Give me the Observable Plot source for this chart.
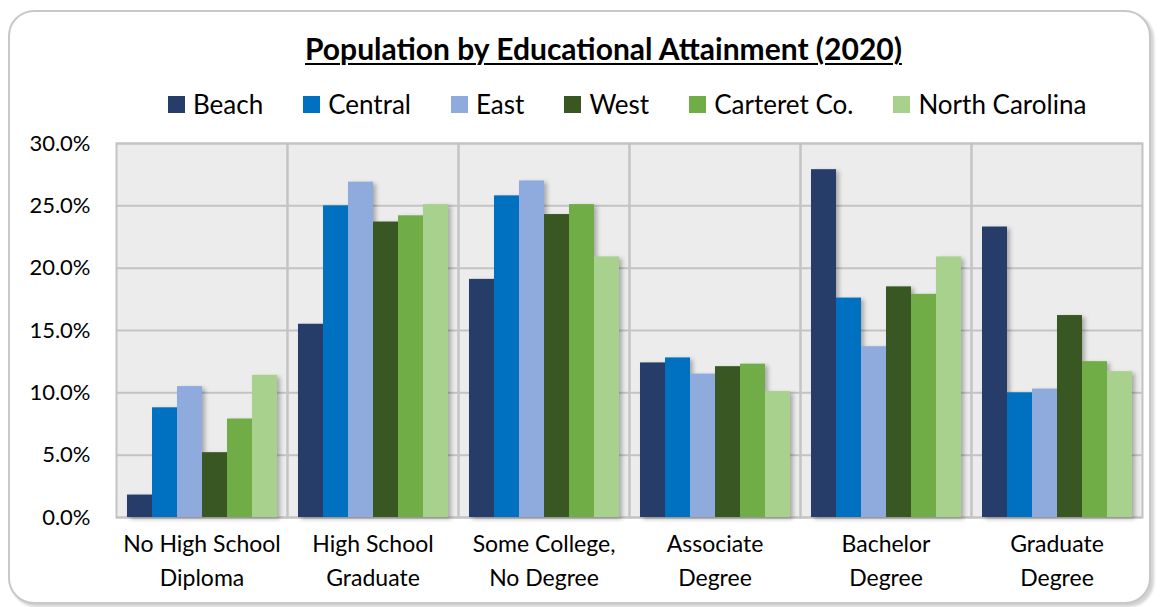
<!DOCTYPE html>
<html>
<head>
<meta charset="utf-8">
<script src="https://cdn.jsdelivr.net/npm/d3@7"></script>
<script src="https://cdn.jsdelivr.net/npm/@observablehq/plot@0.6"></script>
<style>
  html, body { margin: 0; padding: 0; background: #fff; }
  body { width: 1160px; height: 607px; overflow: hidden; font-family: Lato, "Open Sans", sans-serif; position: relative; }
  #card {
    position: absolute; left: 8px; top: 10px; width: 1143px; height: 594px;
    border: 2px solid #c8c8c8; border-radius: 26px; box-sizing: border-box;
    box-shadow: 3px 3px 3px rgba(0,0,0,0.18); background: #fff;
  }
  #title {
    position: absolute; top: 30px; left: 305px; text-align: left;
    font-weight: bold; font-size: 30px; text-decoration: underline; color: #000;
    text-underline-offset: 3px; text-decoration-thickness: 2px; white-space: nowrap;
  }
  #legend {
    position: absolute; top: 88px; left: 168px; display: flex; align-items: center;
    font-size: 26px; color: #000; white-space: nowrap;
  }
  #legend .item { display: flex; align-items: center; margin-right: 40px; }
  #legend .sw { width: 17px; height: 17px; margin-right: 8px; }
  #chart { position: absolute; left: 0; top: 0; }
</style>
</head>
<body>
<div id="card"></div>
<div id="title">Population by Educational Attainment (2020)</div>
<div id="legend"></div>
<div id="chart"></div>
<script>
const categories = ["No High School\nDiploma", "High School\nGraduate", "Some College,\nNo Degree", "Associate\nDegree", "Bachelor\nDegree", "Graduate\nDegree"];
const seriesNames = ["Beach", "Central", "East", "West", "Carteret Co.", "North Carolina"];
const seriesColors = ["#253d68", "#0070c0", "#8faadc", "#385723", "#70ad47", "#a9d18e"];
const beach = [1.8, 15.5, 19.1, 12.4, 27.9, 23.3];
const central = [8.8, 25.0, 25.8, 12.8, 17.6, 10.0];
const east = [10.5, 26.9, 27.0, 11.5, 13.7, 10.3];
const west = [5.2, 23.7, 24.3, 12.1, 18.5, 16.2];
const carteret = [7.9, 24.2, 25.1, 12.3, 17.9, 12.5];
const northCarolina = [11.4, 25.1, 20.9, 10.1, 20.9, 11.7];
const yTicks = [0, 5, 10, 15, 20, 25, 30];

const seriesValues = [beach, central, east, west, carteret, northCarolina];
const data = [];
categories.forEach((c, i) => {
  seriesNames.forEach((s, j) => data.push({category: c, series: s, value: seriesValues[j][i]}));
});

const legend = document.getElementById("legend");
seriesNames.forEach((s, j) => {
  const it = document.createElement("div");
  it.className = "item";
  it.innerHTML = `<span class="sw" style="background:${seriesColors[j]}"></span><span>${s}</span>`;
  legend.appendChild(it);
});

const chart = Plot.plot({
  width: 1160,
  height: 607,
  marginTop: 143,
  marginBottom: 90,
  marginLeft: 116,
  marginRight: 18,
  style: {background: "transparent", fontFamily: "Lato, 'Open Sans', sans-serif", color: "#000"},
  fx: {domain: categories, padding: 0, label: null},
  x: {domain: seriesNames, paddingInner: 0, paddingOuter: 0.29, axis: null},
  y: {domain: [0, 30], label: null},
  color: {domain: seriesNames, range: seriesColors},
  marks: [
    Plot.frame({fill: "#ececec", stroke: null}),
    Plot.gridY(yTicks, {stroke: "#c3c3c3", strokeOpacity: 1, strokeWidth: 2}),
    Plot.frame({stroke: "#c3c3c3", strokeWidth: 2}),
    Plot.barY(data, {fx: "category", x: "series", y: "value", fill: "series", inset: 0}),
    Plot.axisY(yTicks, {tickSize: 0, tickPadding: 26, tickFormat: d => d.toFixed(1) + "%", fontSize: 22, fill: "#000"}),
    Plot.axisFx({anchor: "bottom", tickSize: 0, tickPadding: 10, fontSize: 23, lineHeight: 1.5, fill: "#000", label: null})
  ]
});
chart.querySelectorAll('g[aria-label="bar"]').forEach(g => {
  g.style.filter = "drop-shadow(3px 2px 2px rgba(0,0,0,0.28))";
});
document.getElementById("chart").appendChild(chart);
</script>
</body>
</html>
